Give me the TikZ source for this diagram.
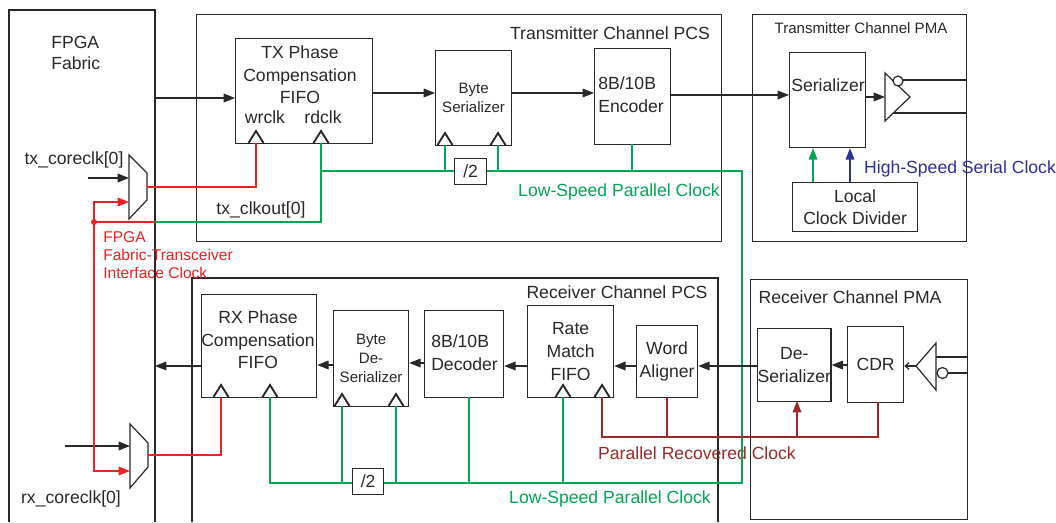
\documentclass[tikz,border=0pt]{standalone}
\usepackage{fontspec}
\setmainfont{Liberation Sans}
\usetikzlibrary{arrows.meta}
\definecolor{cred}{RGB}{237,32,36}
\definecolor{cgreen}{RGB}{0,166,81}
\definecolor{cblue}{RGB}{46,49,146}
\definecolor{cdred}{RGB}{155,40,40}
\definecolor{cline}{RGB}{40,40,40}
\newcommand\bx[7][]{\node[box,#1,minimum width={(#5-#3)*0.75pt},minimum height={(#6-#4)*0.75pt}] (#2) at (#3,#4) {#7};}
\newcommand\ckp[2]{\draw[clkpin] (#1-7.5,#2) -- (#1,#2-12) -- (#1+7.5,#2);}
\begin{document}
\begin{tikzpicture}[x=0.75pt,y=-0.75pt,
 every node/.style={text=cline, inner sep=0pt},
 box/.style={draw=cline, line width=0.9pt, anchor=north west, inner sep=0pt},
 fm/.style={font=\fontsize{13.2}{17}\selectfont, align=center},
 fs/.style={font=\fontsize{11.3}{14.2}\selectfont, align=center},
 ln/.style={draw=cline, line width=0.9pt},
 arr/.style={ln, -{Triangle[length=8.5pt,width=6.5pt]}},
 gl/.style={draw=cgreen, line width=0.9pt},
 rl/.style={draw=cred, line width=0.9pt},
 dl/.style={draw=cdred, line width=0.9pt},
 tip/.style={-{Triangle[length=8.5pt,width=6.5pt]}},
 clkpin/.style={draw=cline, line width=1.4pt},
]
\useasboundingbox (0,0) rectangle (1056,522);

% open frames
\draw[ln] (9,522) -- (9,10) -- (155,10) -- (155,522);
\draw[ln] (192,522) -- (192,278) -- (718,278) -- (718,522);

% boxes
\bx{txpcs}{196}{14}{721}{241}{}
\bx{txpma}{752}{14}{966}{241}{}
\bx{rxpma}{750}{279}{967}{519}{}
\bx{txfifo}{235}{38}{372}{143}{}
\bx[fs]{bser}{435}{50}{511}{145}{Byte\\Serializer}
\bx{enc}{594}{48}{670}{144}{}
\bx[fm]{div2t}{454}{158}{486}{184}{/2}
\bx{ser}{789}{52}{865}{147}{}
\bx[fm]{lcd}{792}{182}{917}{231}{Local\\Clock Divider}
\bx{rxfifo}{201}{294}{316}{397}{}
\bx[fs]{bdes}{333}{310}{408}{406}{Byte\\De-\\Serializer}
\bx{dec}{424}{310}{503}{397}{}
\bx[fm]{rmf}{527}{305}{613}{397}{Rate\\Match\\FIFO}
\bx[fm]{wal}{636}{325}{697}{397}{Word\\Aligner}
\bx[fm]{des}{757}{328}{830}{401}{De-\\Serializer}
\bx[fm]{cdr}{847}{326}{903}{402}{CDR}
\bx[fm]{div2r}{352}{468}{383}{494}{/2}

% texts
\node[font=\fontsize{13.2}{15.75}\selectfont, align=left, anchor=west] (fpgat) at (51,53) {FPGA\\Fabric};
\node[fm] (txfifot) at (300,75) {TX Phase\\Compensation\\FIFO};
\node[fm] (wrt) at (265,117) {wrclk};
\node[fm] (rdt) at (323,117) {rdclk};
\node[fm, align=left, anchor=west] (enct) at (598,95) {8B/10B\\Encoder};
\node[fm] (sert) at (828,85) {Serializer};
\node[fs] (txpmat) at (861,28) {Transmitter Channel PMA};
\node[fm] (txpcst) at (610,33) {Transmitter Channel PCS};
\node[fm, text=cblue] (hsclk) at (960,169) {High-Speed Serial Clock};
\node[fm, text=cgreen] (lsclkt) at (619,192) {Low-Speed Parallel Clock};
\node[fm] (txcore) at (74,160) {tx\_coreclk[0]};
\node[fm] (txclkout) at (261,210) {tx\_clkout[0]};
\node[font=\fontsize{11.7}{13.5}\selectfont, align=left, anchor=west, text=cred] (ificlk) at (103,255) {FPGA\\Fabric-Transceiver\\Interface Clock};
\node[fm] (rxfifot) at (258,340) {RX Phase\\Compensation\\FIFO};
\node[fm, align=left, anchor=west] (dect) at (431,353) {8B/10B\\Decoder};
\node[fm] (rxpcst) at (617,292) {Receiver Channel PCS};
\node[fm] (rxpmat) at (850,297) {Receiver Channel PMA};
\node[fm, text=cdred] (prclk) at (697,453) {Parallel Recovered Clock};
\node[fm, text=cgreen] (lsclkr) at (610,499) {Low-Speed Parallel Clock};
\node[fm] (rxcore) at (71,499) {rx\_coreclk[0]};

% muxes
\draw[ln] (129,155) -- (147,173) -- (147,200) -- (129,219) -- cycle;
\coordinate (txmA) at (129,178);
\coordinate (txmB) at (129,202);
\coordinate (txmO) at (147,187);
\draw[ln] (130,424) -- (148,443) -- (148,467) -- (130,488) -- cycle;
\coordinate (rxmA) at (130,446);
\coordinate (rxmB) at (130,471);
\coordinate (rxmO) at (148,455);
\coordinate (txin) at (88,178);
\coordinate (rxin) at (65,446);
\draw[arr] (txin) -- (txmA);
\draw[arr] (rxin) -- (rxmA);

% clock pins
\coordinate (wrp) at (256,143);
\coordinate (rdp) at (321,143);
\coordinate (bsp1) at (445,145);
\coordinate (bsp2) at (498,145);
\coordinate (encp) at (632,144);
\coordinate (rxp1) at (221,397);
\coordinate (rxp2) at (270,397);
\coordinate (bdp1) at (342,406);
\coordinate (bdp2) at (396,406);
\coordinate (decp) at (469,397);
\coordinate (rmp1) at (563,397);
\coordinate (rmp2) at (602,397);
\coordinate (walp) at (667,397);
\coordinate (desp) at (797,401);
\coordinate (cdrp) at (878,402);
\ckp{256}{143}\ckp{321}{143}\ckp{445}{145}\ckp{498}{145}
\ckp{221}{397}\ckp{270}{397}\ckp{342}{406}\ckp{396}{406}\ckp{563}{397}\ckp{602}{397}

% red clocks
\coordinate (rdot) at (94,222);
\draw[rl, tip] (rdot) -- (94,202) -- (txmB);
\draw[rl, tip] (rdot) -- (94,471) -- (rxmB);
\fill[cred] (rdot) circle (3);
\draw[rl] (rdot) -- (155,222);
\draw[rl] (txmO) -| (wrp);
\draw[rl] (rxmO) -| (rxp1);

% green clocks
\coordinate (gj) at (321,171);
\draw[gl] (155,222) -- (321,222) -- (rdp);
\draw[gl] (gj) -- (div2t.west |- 0,171);
\draw[gl] (div2t.east |- 0,171) -- (742,171) -- (742,483) -- (div2r.east |- 0,483);
\draw[gl] (div2r.west |- 0,483) -- (270,483) -- (rxp2);
\draw[gl] (bsp1) -- (445,171);
\draw[gl] (bsp2) -- (498,171);
\draw[gl] (encp) -- (632,171);
\draw[gl] (bdp1) -- (342,483);
\draw[gl] (bdp2) -- (396,483);
\draw[gl] (decp) -- (469,483);
\draw[gl] (rmp1) -- (563,483);
\draw[gl, tip] (lcd.north -| 813,0) -- (ser.south -| 813,0);
\draw[draw=cblue, line width=0.9pt, tip] (lcd.north -| 850,0) -- (ser.south -| 850,0);

% recovered clock
\draw[dl] (cdrp) -- (878,437) -- (602,437) -- (rmp2);
\draw[dl] (walp) -- (667,437);
\draw[dl, tip] (797,437) -- (desp);

% tx data path
\draw[arr] (155,98) -- (txfifo.west |- 0,98);
\draw[arr] (txfifo.east |- 0,93) -- (bser.west |- 0,93);
\draw[arr] (bser.east |- 0,93) -- (enc.west |- 0,93);
\draw[arr] (enc.east |- 0,95) -- (ser.west |- 0,95);
\coordinate (bufin) at (885,97);
\draw[arr] (ser.east |- 0,97) -- (bufin);
\draw[ln] (885,73) -- (910,97) -- (885,121) -- cycle;
\draw[ln, fill=white] (898,81) circle (5);
\draw[ln] (903,80) -- (966,80);
\draw[ln] (893,113) -- (966,113);

% rx data path
\draw[ln] (916,366) -- (936,343) -- (936,390) -- cycle;
\draw[ln, fill=white] (942.5,373) circle (5.5);
\draw[ln] (936,357) -- (967,357);
\draw[ln] (948,373) -- (967,373);
\coordinate (bufout) at (916,366);
\draw[ln, -{Straight Barb[length=3pt,width=5pt]}] (bufout) -- (cdr.east |- 0,366);
\draw[arr] (cdr.west |- 0,365) -- (des.east |- 0,365);
\draw[arr] (des.west |- 0,366) -- (wal.east |- 0,366);
\draw[arr] (wal.west |- 0,366) -- (rmf.east |- 0,366);
\draw[arr] (rmf.west |- 0,366) -- (dec.east |- 0,366);
\draw[arr] (dec.west |- 0,363) -- (bdes.east |- 0,363);
\draw[arr] (bdes.west |- 0,365) -- (rxfifo.east |- 0,365);
\draw[arr] (rxfifo.west |- 0,366) -- (155,366);
\end{tikzpicture}
\end{document}
